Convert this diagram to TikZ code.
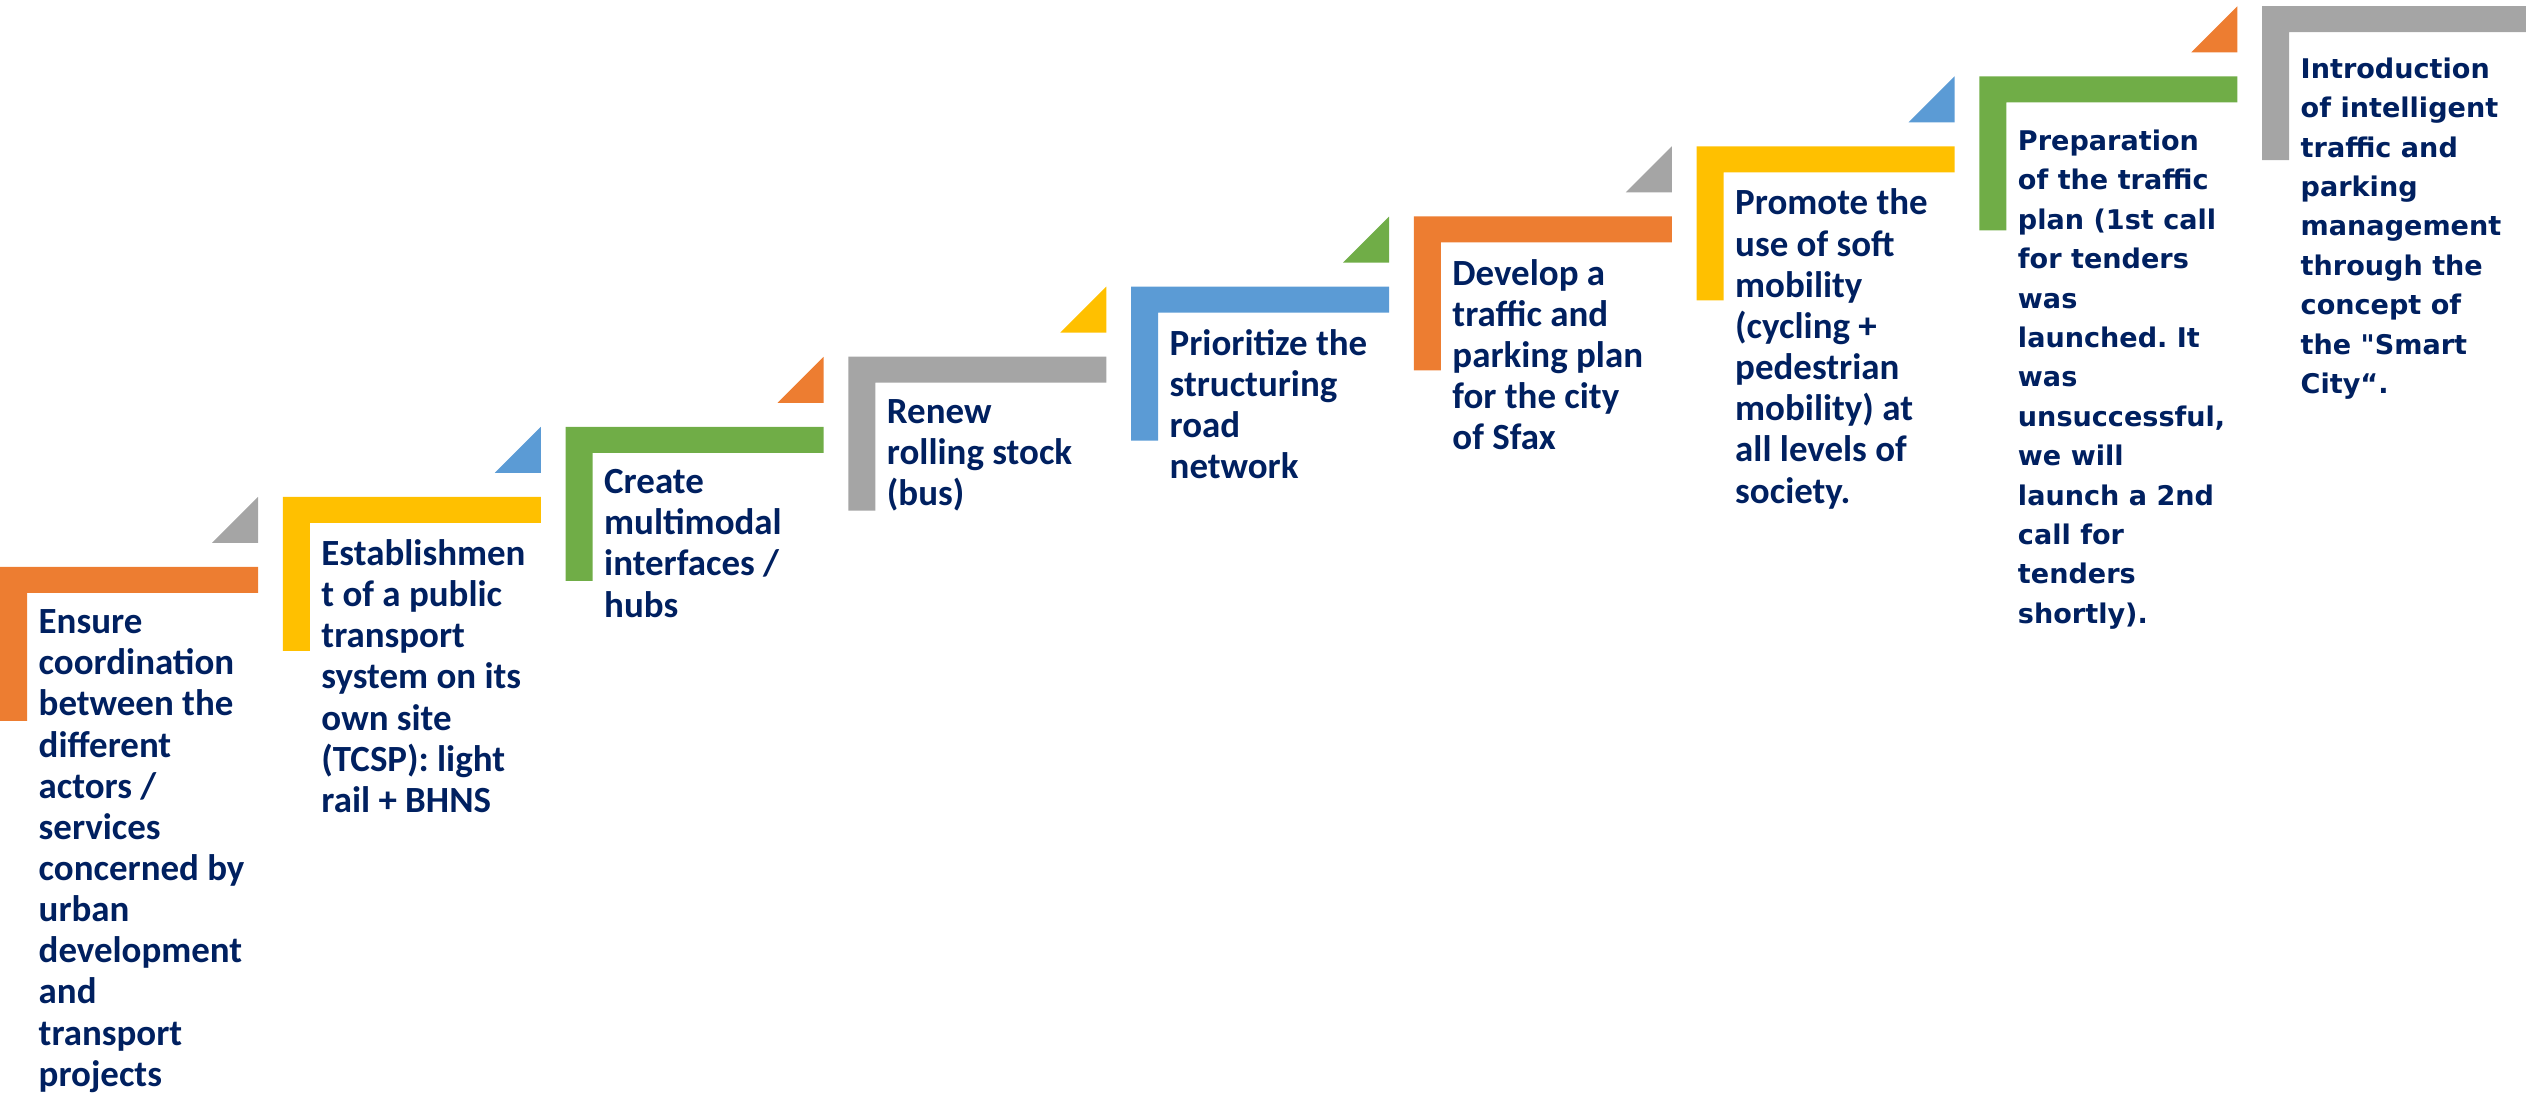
\documentclass[tikz,border=0pt]{standalone}
\usepackage{fontspec}
\setmainfont{Carlito}
\newfontfamily\widefont{DejaVu Sans}
\frenchspacing
\definecolor{stepOrange}{HTML}{ED7D31}
\definecolor{stepYellow}{HTML}{FFC000}
\definecolor{stepGreen}{HTML}{70AD47}
\definecolor{stepGray}{HTML}{A5A5A5}
\definecolor{stepBlue}{HTML}{5B9BD5}
\definecolor{stepNavy}{HTML}{002060}
\begin{document}
\begin{tikzpicture}[x=0.01cm,y=0.01cm,
		steptext/.style={anchor=north west, inner sep=0pt, align=left, text=stepNavy, font=\bfseries\fontsize{10.5}{11.7}\selectfont},
		widetext/.style={steptext, font=\widefont\bfseries\fontsize{7.7}{11.2}\selectfont}]
		\useasboundingbox (0,0) rectangle (2526,1095);
		
		% the stairs
		\foreach \i/\col/\w in {0/stepOrange/258, 1/stepYellow/258, 2/stepGreen/258, 3/stepGray/258, 4/stepBlue/258, 5/stepOrange/258, 6/stepYellow/258, 7/stepGreen/258, 8/stepGray/264}{
			\pgfmathsetmacro{\sx}{282.75*\i}
			\pgfmathsetmacro{\sy}{528+70.1*\i}
			\coordinate (s\i) at (\sx,\sy);
			\fill[\col] (s\i) -- ++(\w,0) -- ++(0,-26) -- ++({27-\w},0) -- ++(0,-128) -- ++(-27,0) -- cycle;
		}
		
		% small corner triangles
		\foreach \i/\col in {0/stepGray, 1/stepBlue, 2/stepOrange, 3/stepYellow, 4/stepGreen, 5/stepGray, 6/stepBlue, 7/stepOrange}{
			\fill[\col] ([shift={(258,24)}]s\i) -- ++(-46,0) -- ++(46,46) -- cycle;
		}
		
		\node[steptext] (t0) at ([shift={(38,-42)}]s0) {Ensure\\coordination\\between the\\different\\actors /\\services\\concerned by\\urban\\development\\and\\transport\\projects};
		\node[steptext] (t1) at ([shift={(38,-42)}]s1) {Establishmen\\t of a public\\transport\\system on its\\own site\\(TCSP): light\\rail + BHNS};
		\node[steptext] (t2) at ([shift={(38,-42)}]s2) {Create\\multimodal\\interfaces /\\hubs};
		\node[steptext] (t3) at ([shift={(38,-42)}]s3) {Renew\\rolling stock\\(bus)};
		\node[steptext] (t4) at ([shift={(38,-42)}]s4) {Prioritize the\\structuring\\road\\network};
		\node[steptext] (t5) at ([shift={(38,-42)}]s5) {Develop a\\traffic and\\parking plan\\for the city\\of Sfax};
		\node[steptext] (t6) at ([shift={(38,-42)}]s6) {Promote the\\use of soft\\mobility\\(cycling +\\pedestrian\\mobility) at\\all levels of\\society.};
		\node[widetext] (t7) at ([shift={(38,-53)}]s7) {Preparation\\of the traffic\\plan (1st call\\for tenders\\was\\launched. It\\was\\unsuccessful,\\we will\\launch a 2nd\\call for\\tenders\\shortly).};
		\node[widetext] (t8) at ([shift={(38,-51)}]s8) {Introduction\\of intelligent\\traffic and\\parking\\management\\through the\\concept of\\the "Smart\\City“.};
	\end{tikzpicture}
\end{document}
